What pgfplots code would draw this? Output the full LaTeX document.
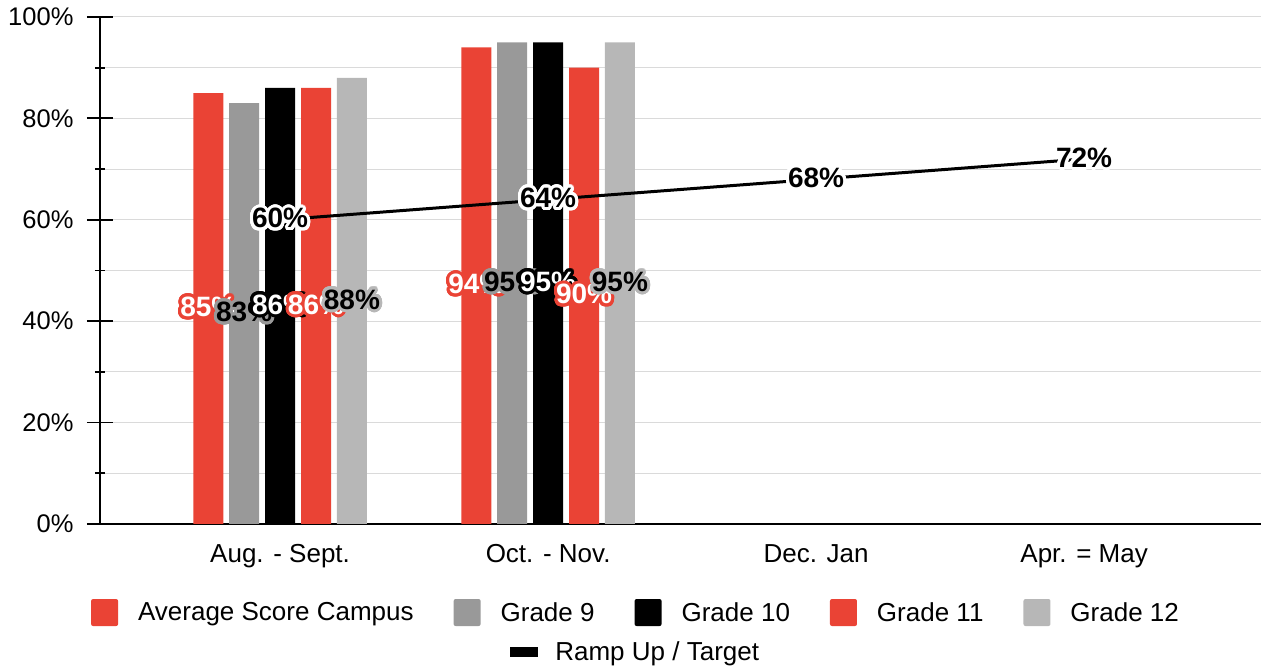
\documentclass[border=0pt]{standalone}
\usepackage{pgfplots}
\usepackage{pgfplotstable}
\pgfplotsset{compat=1.18}
\usepackage{fontspec}
\setmainfont{Liberation Sans}
\usepackage[copies]{contour}
\contourlength{3pt}
\contournumber{40}
\definecolor{cred}{HTML}{EA4335}
\definecolor{cgray}{HTML}{999999}
\definecolor{clgray}{HTML}{B7B7B7}
\definecolor{cgrid}{HTML}{DADADA}

\pgfplotstableread{
x avg g9 g10 g11 g12
0 85 83 86 86 88
1 94 95 95 90 95
}\bars
\pgfplotstableread{
x t
0 60
1 64
2 68
3 72
}\ramp

\newcommand{\lbl}[2]{\textcolor{#2}{\contour{#1}{\pgfmathprintnumber{\pgfplotspointmeta}\%}}}

\pgfplotsset{
  sq/.style={ybar, bar width=0.112, draw=none, fill=#1,
    legend image code/.code={\fill[#1,rounded corners=2pt] (0pt,-13.5pt) rectangle (27pt,13.5pt);},
    visualization depends on={rawy \as \rawy}},
  lblat/.style={bar shift=#1,
    nodes near coords style={anchor=center, font=\fontsize{28}{32}\selectfont\bfseries,
      shift={(axis direction cs:#1,-\rawy/2)}}},
}

\begin{document}
\begin{tikzpicture}
\begin{axis}[
  name=main,
  scale only axis, width=1161pt, height=507pt,
  xmin=-0.672, xmax=3.660, ymin=0, ymax=100,
  axis lines*=left,
  axis line style={-, black, line width=1.8pt},
  xtick={0,1,2,3},
  xticklabels={{Aug. - Sept.},{Oct. - Nov.},{Dec. Jan},{Apr. = May}},
  xtick style={draw=none},
  ytick={0,20,...,100},
  minor ytick={10,30,50,70,90},
  yticklabel={\pgfmathprintnumber{\tick}\%},
  /pgf/number format/assume math mode=true,
  tick align=center,
  major tick length=26pt, minor tick length=10pt,
  ytick style={black, line width=1.8pt},
  ymajorgrids, yminorgrids,
  major grid style={cgrid, line width=1pt},
  minor grid style={cgrid, line width=1pt},
  yticklabel style={font=\fontsize{25.5}{30}\selectfont, anchor=east, xshift=-10pt},
  xticklabel style={font=\fontsize{26}{30}\selectfont, yshift=-4pt},
  legend columns=5,
  legend style={draw=none, fill=none, inner sep=0pt, at={(0.4608,-0.1746)}, anchor=center,
    font=\fontsize{26}{30}\selectfont,
    nodes={inner sep=0pt},
    /tikz/every odd column/.style={column sep=20pt},
    /tikz/every even column/.style={column sep=40pt}},
]
\addplot[sq=cred, lblat=-0.268, nodes near coords={\lbl{cred}{white}}] table[x=x,y=avg]{\bars};
\addlegendentry{Average Score Campus}
\addplot[sq=cgray, lblat=-0.134, nodes near coords={\lbl{cgray}{black}}] table[x=x,y=g9]{\bars};
\addlegendentry{Grade 9}
\addplot[sq=black, lblat=0, nodes near coords={\lbl{black}{white}}] table[x=x,y=g10]{\bars};
\addlegendentry{Grade 10}
\addplot[sq=cred, lblat=0.134, nodes near coords={\lbl{cred}{white}}] table[x=x,y=g11]{\bars};
\addlegendentry{Grade 11}
\addplot[sq=clgray, lblat=0.268, nodes near coords={\lbl{clgray}{black}}] table[x=x,y=g12]{\bars};
\addlegendentry{Grade 12}
\addplot[black, line width=3pt, forget plot,
  nodes near coords={\lbl{white}{black}},
  nodes near coords style={anchor=center, font=\fontsize{28}{32}\selectfont\bfseries}]
  table[x=x,y=t]{\ramp};
\end{axis}
\begin{axis}[
  at={(main.south west)}, anchor=south west,
  scale only axis, width=1161pt, height=507pt,
  hide axis, xmin=0, xmax=1, ymin=0, ymax=1,
  legend style={draw=none, fill=none, inner sep=0pt, at={(0.4604,-0.2525)}, anchor=center,
    font=\fontsize{26}{30}\selectfont,
    nodes={inner sep=0pt},
    /tikz/every odd column/.style={column sep=18pt}},
]
\addlegendimage{legend image code/.code={\fill[black] (0pt,-4.5pt) rectangle (27pt,4.5pt);}}
\addlegendentry{Ramp Up / Target}
\end{axis}
\pgfresetboundingbox
\path[use as bounding box] ([xshift=-100pt,yshift=-142pt]main.south west) rectangle ([yshift=17pt]main.north east);
\end{tikzpicture}
\end{document}
